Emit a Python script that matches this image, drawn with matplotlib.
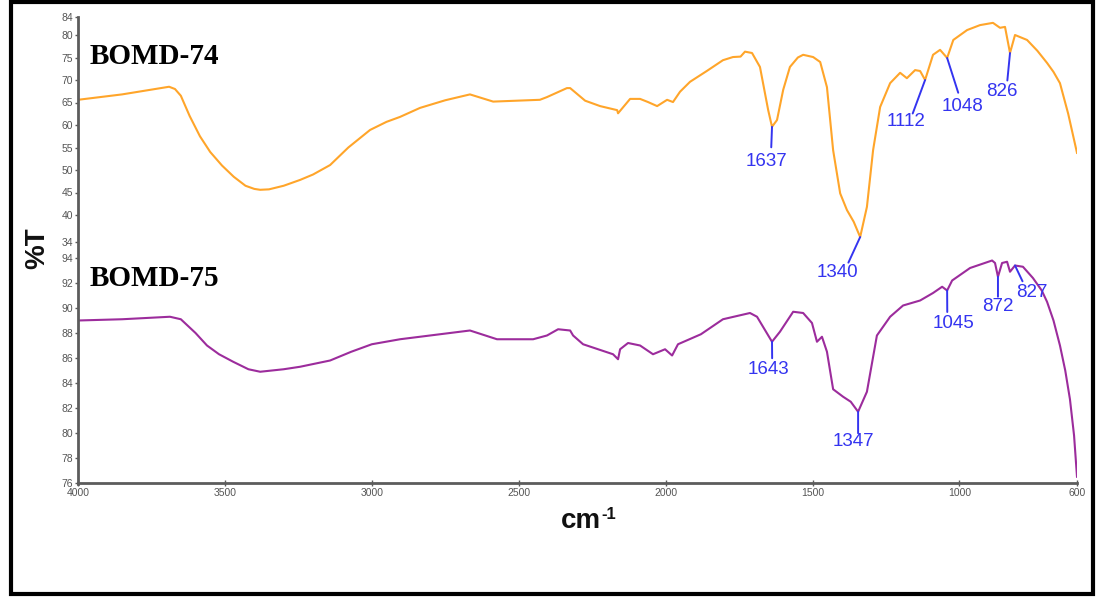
import numpy as np
import matplotlib
matplotlib.use("Agg")
import matplotlib.pyplot as plt
from matplotlib.lines import Line2D
from matplotlib.patches import Rectangle

# ---------------- data ----------------
wn_74 = [4000, 3850, 3690, 3670, 3650, 3620, 3585, 3550, 3510, 3470, 3430, 3400, 3380,
         3350, 3300, 3244, 3200, 3142, 3080, 3006, 2950, 2904, 2836, 2750, 2666, 2587,
         2428, 2404, 2336, 2325, 2274, 2223, 2165, 2162, 2121, 2087, 2060, 2029, 1995,
         1975, 1951, 1917, 1860, 1805, 1771, 1745, 1730, 1706, 1679, 1651, 1638, 1621,
         1600, 1577, 1550, 1532, 1498, 1474, 1451, 1430, 1406, 1383, 1360, 1338, 1315,
         1294, 1270, 1236, 1202, 1179, 1151, 1134, 1117, 1090, 1066, 1042, 1021, 974,
         930, 886, 862, 845, 828, 811, 770, 735, 702, 680, 658, 630, 600]
t_74 = [65.6, 66.8, 68.5, 68.0, 66.5, 62.0, 57.5, 54.0, 51.0, 48.5, 46.5, 45.8, 45.6,
        45.7, 46.5, 47.8, 49.0, 51.1, 55.0, 58.9, 60.7, 61.8, 63.8, 65.5, 66.8, 65.2,
        65.6, 66.2, 68.2, 68.2, 65.4, 64.2, 63.3, 62.6, 65.8, 65.8, 65.1, 64.2, 65.6,
        65.1, 67.4, 69.6, 72.0, 74.4, 75.1, 75.2, 76.3, 76.0, 72.9, 63.3, 59.6, 61.1,
        67.8, 72.9, 75.0, 75.6, 75.1, 74.0, 68.4, 54.4, 44.8, 41.1, 38.5, 35.1, 41.8,
        54.4, 64.0, 69.3, 71.6, 70.4, 72.2, 72.0, 70.0, 75.6, 76.7, 74.9, 78.9, 81.1,
        82.2, 82.7, 81.6, 81.8, 76.0, 80.0, 78.9, 76.5, 73.8, 71.8, 69.3, 62.5, 53.8]

wn_75 = [4000, 3850, 3687, 3650, 3600, 3561, 3520, 3472, 3420, 3380, 3300, 3244, 3142,
         3070, 3000, 2904, 2666, 2574, 2451, 2404, 2366, 2325, 2315, 2281, 2179, 2162,
         2155, 2128, 2087, 2043, 2002, 1978, 1958, 1880, 1805, 1713, 1689, 1638, 1611,
         1566, 1532, 1502, 1485, 1468, 1451, 1430, 1396, 1370, 1345, 1315, 1281, 1236,
         1192, 1134, 1090, 1059, 1042, 1025, 964, 889, 879, 869, 855, 838, 828, 811,
         784, 750, 720, 702, 680, 658, 640, 624, 610, 600]
t_75 = [89.0, 89.1, 89.3, 89.1, 88.0, 87.0, 86.3, 85.7, 85.1, 84.9, 85.1, 85.3, 85.8,
        86.5, 87.1, 87.5, 88.2, 87.5, 87.5, 87.8, 88.3, 88.2, 87.8, 87.1, 86.3, 85.9,
        86.7, 87.2, 87.0, 86.3, 86.7, 86.2, 87.1, 87.9, 89.1, 89.6, 89.3, 87.3, 88.1,
        89.7, 89.6, 88.8, 87.3, 87.7, 86.5, 83.5, 82.9, 82.5, 81.7, 83.3, 87.8, 89.3,
        90.2, 90.6, 91.2, 91.7, 91.4, 92.2, 93.2, 93.8, 93.6, 92.5, 93.6, 93.7, 92.9,
        93.4, 93.3, 92.4, 91.4, 90.5, 89.0, 87.0, 85.0, 82.7, 79.8, 76.5]

# peak labels: wavenumber, label
peaks_74 = [1638, 1338, 1117, 1042, 828]
labels_74 = ["1637", "1340", "1112", "1048", "826"]
peaks_75 = [1638, 1345, 1042, 869, 811]
labels_75 = ["1643", "1347", "1045", "872", "827"]

yticks_74 = [84, 80, 75, 70, 65, 60, 55, 50, 45, 40, 34]
yticks_75 = [94, 92, 90, 88, 86, 84, 82, 80, 78, 76]
xticks = [4000, 3500, 3000, 2500, 2000, 1500, 1000, 600]

# ---------------- style ----------------
W, H = 1096, 598
ORANGE = "#FFA52A"
PURPLE = "#9C2C9C"
BLUE = "#3434F0"
AXC = "#5c5c5c"
TICKC = "#555555"

# annotation layout (offsets in px: text centre relative to peak; relpos x; gap)
ann_74 = [(-6, 35, 0.62, 6), (-23, 35, 0.76, 1), (-19, 42, 0.67, 0), (15, 49, 0.45, 6), (-8, 39, 0.66, 3)]
ann_75 = [(-4, 28, 0.60, 3), (-5, 30, 0.62, 0), (6, 33, 0.36, 3), (0, 30, 0.50, 1.5), (17, 27, 0.24, 3)]

fig = plt.figure(figsize=(W / 100, H / 100), dpi=100)
fig.patch.set_facecolor("white")

def fx(px):
    return px / W

def fy(py):
    return 1 - py / H

L, R = 78, 1077
ax1 = fig.add_axes([fx(L), fy(242), fx(R) - fx(L), fy(17) - fy(242)])
ax2 = fig.add_axes([fx(L), fy(483), fx(R) - fx(L), fy(258) - fy(483)], sharex=ax1)

ax1.plot(wn_74, t_74, color=ORANGE, lw=1.5, solid_joinstyle="round")
ax2.plot(wn_75, t_75, color=PURPLE, lw=1.5, solid_joinstyle="round")

ax1.set_xlim(4000, 600)
ax1.set_ylim(34, 84)
ax2.set_ylim(76, 94)
ax1.set_yticks(yticks_74)
ax2.set_yticks(yticks_75)
ax2.set_xticks(xticks)

for ax in (ax1, ax2):
    for s in ("top", "right", "left", "bottom"):
        ax.spines[s].set_visible(False)
    ax.patch.set_alpha(0)
    ax.tick_params(axis="y", direction="out", length=2.5, width=1, color=AXC, pad=1,
                   labelsize=7.5, labelcolor=TICKC)
    for t in ax.get_yticklabels():
        t.set_fontfamily("Liberation Sans")

ax1.tick_params(axis="x", bottom=False, labelbottom=False)
ax2.spines["bottom"].set_visible(True)
ax2.spines["bottom"].set_color(AXC)
ax2.spines["bottom"].set_linewidth(2)
ax2.tick_params(axis="x", direction="inout", length=5, width=1, color=AXC, pad=1,
                labelsize=7.5, labelcolor=TICKC)
for t in ax2.get_xticklabels():
    t.set_fontfamily("Liberation Sans")

# continuous left axis line
fig.add_artist(Line2D([fx(L), fx(L)], [fy(17), fy(484)], color=AXC, lw=2))

def annotate(ax, wn, vals, peaks, labels, lay):
    order = np.argsort(wn)
    for p, lab, (dx, dy, rx, gap) in zip(peaks, labels, lay):
        v = np.interp(p, np.asarray(wn)[order], np.asarray(vals)[order])
        ax.annotate(lab, xy=(p, v), xytext=(dx * 0.72, -dy * 0.72), textcoords="offset points",
                    ha="center", va="center", fontsize=13.5, color=BLUE,
                    family="Liberation Sans",
                    arrowprops=dict(arrowstyle="-", color=BLUE, lw=1.4, shrinkA=gap * 0.72,
                                    shrinkB=0, relpos=(rx, 1.0), patchA=None))

annotate(ax1, wn_74, t_74, peaks_74, labels_74, ann_74)
annotate(ax2, wn_75, t_75, peaks_75, labels_75, ann_75)

# titles
fig.text(fx(90), fy(57), "BOMD-74", family="Liberation Serif", weight="bold", fontsize=21,
         ha="left", va="center", color="black")
fig.text(fx(90), fy(279), "BOMD-75", family="Liberation Serif", weight="bold", fontsize=21,
         ha="left", va="center", color="black")

# axis labels
fig.text(fx(37), fy(248), "%T", family="Liberation Sans", weight="bold", fontsize=20,
         rotation=90, ha="center", va="center", color="#111111")
fig.text(fx(561), fy(528), "cm", family="Liberation Sans", weight="bold", fontsize=20,
         ha="left", va="baseline", color="#111111")
fig.text(fx(601), fy(519), "-1", family="Liberation Sans", weight="bold", fontsize=12,
         ha="left", va="baseline", color="#111111")

# outer border
fig.add_artist(Rectangle((fx(10.5), fy(593.5)), fx(1093) - fx(10.5), fy(1.5) - fy(593.5),
                         transform=fig.transFigure, fill=False, edgecolor="black", lw=3))

fig.savefig("out.png", dpi=100, facecolor="white")
